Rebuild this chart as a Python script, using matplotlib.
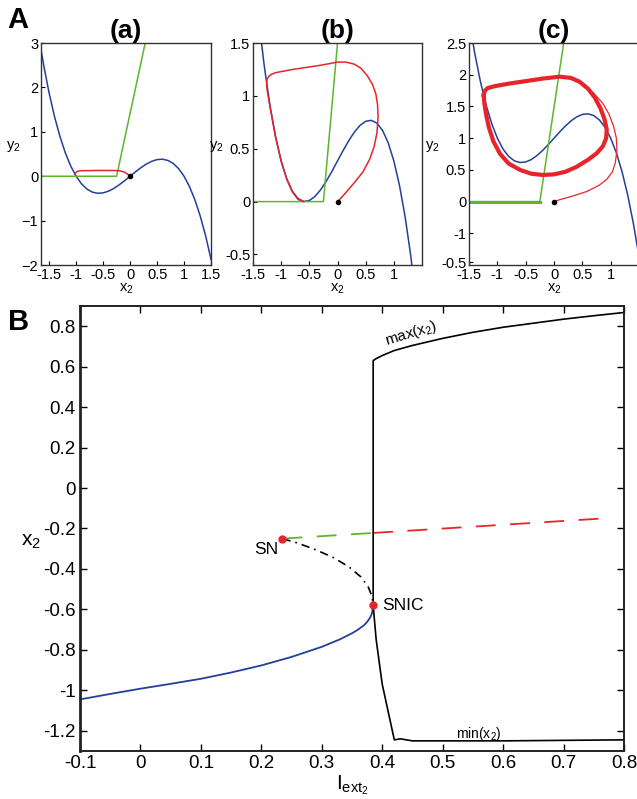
import matplotlib.pyplot as plt
from matplotlib.ticker import FixedLocator, FixedFormatter

plt.rcParams['font.family'] = ['Liberation Sans', 'DejaVu Sans']
plt.rcParams['mathtext.fontset'] = 'custom'
plt.rcParams['mathtext.rm'] = 'Liberation Sans'
plt.rcParams['mathtext.it'] = 'Liberation Sans:italic'

BLUE = '#22409a'
GREEN = '#5db530'
RED = '#e8242b'

# --- panel A: phase planes ---
cub_x = [-1.5, -1.4, -1.3, -1.2, -1.1, -1.0, -0.9, -0.8, -0.7, -0.6, -0.5, -0.4, -0.3,
         -0.2, -0.1, 0.0, 0.1, 0.2, 0.3, 0.4, 0.5, 0.6, 0.7, 0.8, 0.9, 1.0, 1.1, 1.2,
         1.3, 1.4, 1.5]
cub_x_a = [-1.67, -1.6] + cub_x
cub_y_a = [2.99, 2.496, 1.875, 1.344, 0.897, 0.528, 0.231, 0.0, -0.171, -0.288, -0.357,
           -0.384, -0.375, -0.336, -0.273, -0.192, -0.099, 0.0, 0.099, 0.192, 0.273,
           0.336, 0.375, 0.384, 0.357, 0.288, 0.171, 0.0, -0.231, -0.528, -0.897,
           -1.344, -1.875]
cub_y_b = [2.26, 1.729, 1.282, 0.913, 0.616, 0.385, 0.214, 0.097, 0.028, 0.001, 0.01,
           0.049, 0.112, 0.193, 0.286, 0.385, 0.484, 0.577, 0.658, 0.721, 0.76, 0.769,
           0.742, 0.673, 0.556, 0.385, 0.154, -0.143, -0.512, -0.959, -1.49]
cub_y_c = [2.875, 2.344, 1.897, 1.528, 1.231, 1.0, 0.829, 0.712, 0.643, 0.616, 0.625,
           0.664, 0.727, 0.808, 0.901, 1.0, 1.099, 1.192, 1.273, 1.336, 1.375, 1.384,
           1.357, 1.288, 1.171, 1.0, 0.769, 0.472, 0.103, -0.344, -0.875]

green_x = [-1.7, -0.25, 0.28]
green_y = [0.0, 0.0, 3.0]
green_x_b = [-1.5, -0.25, 0.0]
green_y_b = [0.0, 0.0, 1.5]
green_x_c = [-1.5, -0.25, 0.17]
green_y_c = [0.0, 0.0, 2.5]

traj_x_a = [0.0, -0.05, -0.1, -0.18, -0.3, -0.6, -0.9, -0.97, -1.0, -1.02]
traj_y_a = [0.0, 0.05, 0.09, 0.12, 0.13, 0.13, 0.125, 0.115, 0.09, 0.04]

traj_x_b = [0.0, 0.09, 0.3, 0.45, 0.57, 0.65, 0.70, 0.72, 0.71, 0.68, 0.62, 0.53, 0.42,
            0.3, 0.15, 0.0, -0.3, -0.8, -1.1, -1.17, -1.22, -1.25, -1.26, -1.25, -1.2,
            -1.1, -1.0, -0.9, -0.8, -0.7, -0.6]
traj_y_b = [0.0, 0.05, 0.18, 0.28, 0.4, 0.52, 0.65, 0.80, 0.92, 1.02, 1.11, 1.19, 1.26,
            1.30, 1.32, 1.32, 1.29, 1.25, 1.22, 1.205, 1.185, 1.16, 1.12, 1.06, 0.90,
            0.61, 0.38, 0.21, 0.09, 0.02, 0.0]

trans_x_c = [0.0, 0.1, 0.3, 0.58, 0.8, 0.93, 1.03, 1.08, 1.11, 1.1, 1.05, 0.97, 0.86,
             0.70, 0.55, 0.40, 0.25]
trans_y_c = [0.0, 0.03, 0.08, 0.16, 0.26, 0.35, 0.47, 0.61, 0.8, 1.0, 1.19, 1.38, 1.55,
             1.71, 1.82, 1.90, 1.95]
cycle_x_c = [-1.24, -1.22, -1.17, -1.05, -0.8, -0.5, -0.2, 0.1, 0.3, 0.45, 0.6, 0.72,
             0.82, 0.89, 0.93, 0.92, 0.86, 0.75, 0.6, 0.4, 0.2, 0.0, -0.2, -0.4, -0.6,
             -0.8, -0.95, -1.07, -1.15, -1.2, -1.23, -1.24]
cycle_y_c = [1.68, 1.75, 1.79, 1.82, 1.86, 1.9, 1.94, 1.97, 1.95, 1.89, 1.78, 1.64,
             1.47, 1.3, 1.14, 1.0, 0.87, 0.76, 0.66, 0.55, 0.47, 0.43, 0.42, 0.44, 0.5,
             0.6, 0.75, 0.95, 1.17, 1.38, 1.55, 1.68]

# --- panel B: bifurcation diagram ---
stable_I = [-0.1, -0.05, 0.0, 0.05, 0.1, 0.15, 0.2, 0.25, 0.3, 0.33, 0.35, 0.36, 0.37,
            0.375, 0.38, 0.383, 0.385]
stable_x = [-1.045, -1.018, -0.992, -0.968, -0.943, -0.912, -0.877, -0.835, -0.785,
            -0.748, -0.718, -0.7, -0.678, -0.662, -0.64, -0.62, -0.58]
saddle_I = [0.235, 0.26, 0.29, 0.32, 0.345, 0.365, 0.377, 0.383, 0.385]
saddle_x = [-0.25, -0.272, -0.305, -0.345, -0.39, -0.44, -0.49, -0.535, -0.58]
unst_green_I = [0.235, 0.385]
unst_green_x = [-0.25, -0.222]
unst_red_I = [0.385, 0.778]
unst_red_x = [-0.222, -0.148]
max_I = [0.385, 0.385, 0.39, 0.40, 0.42, 0.45, 0.5, 0.55, 0.6, 0.65, 0.7, 0.75, 0.8]
max_x = [-0.58, 0.63, 0.64, 0.655, 0.68, 0.705, 0.74, 0.77, 0.795, 0.815, 0.835, 0.852,
         0.868]
min_I = [0.385, 0.39, 0.40, 0.42, 0.43, 0.45, 0.6, 0.8]
min_x = [-0.58, -0.75, -0.97, -1.245, -1.24, -1.25, -1.25, -1.245]
sn_pt = (0.235, -0.25)
snic_pt = (0.385, -0.58)

fig = plt.figure(figsize=(6.37, 7.99), dpi=100)

boxes = [[0.0644, 0.6683, 0.2669, 0.2778],
         [0.3972, 0.6683, 0.2653, 0.2778],
         [0.7363, 0.6683, 0.2669, 0.2778]]
titles = ['(a)', '(b)', '(c)']
axs = [fig.add_axes(b) for b in boxes]

for ax in axs:
    for s in ax.spines.values():
        s.set_linewidth(1.0)
        s.set_color('#333333')
    ax.tick_params(direction='in', length=3, labelsize=10.5, pad=2, width=0.8)
    ax.set_xlabel('x$_2$', fontsize=10.5, labelpad=0)
    ax.set_ylabel('y$_2$', fontsize=10.5, rotation=0, labelpad=6)

ax = axs[0]
ax.plot(cub_x_a, cub_y_a, color=BLUE, lw=1.1)
ax.plot(green_x, green_y, color=GREEN, lw=1.1)
ax.plot(traj_x_a, traj_y_a, color=RED, lw=1.1)
ax.plot(0, 0, 'o', color='black', ms=3)
ax.set_xlim(-1.65, 1.5)
ax.set_ylim(-2, 3)
ax.set_xticks([-1.5, -1, -0.5, 0, 0.5, 1, 1.5])
ax.set_xticklabels(['-1.5', '-1', '-0.5', '0', '0.5', '1', '1.5'])
ax.set_yticks([-2, -1, 0, 1, 2, 3])

ax = axs[1]
ax.plot(cub_x, cub_y_b, color=BLUE, lw=1.1)
ax.plot(green_x_b, green_y_b, color=GREEN, lw=1.1)
ax.plot(traj_x_b, traj_y_b, color=RED, lw=1.1)
ax.plot(0, 0, 'o', color='black', ms=3)
ax.set_xlim(-1.5, 1.5)
ax.set_ylim(-0.6, 1.5)
ax.set_xticks([-1.5, -1, -0.5, 0, 0.5, 1])
ax.set_xticklabels(['-1.5', '-1', '-0.5', '0', '0.5', '1'])
ax.set_yticks([-0.5, 0, 0.5, 1, 1.5])
ax.set_yticklabels(['-0.5', '0', '0.5', '1', '1.5'])

ax = axs[2]
ax.plot(cub_x, cub_y_c, color=BLUE, lw=1.1)
ax.plot(green_x_c, green_y_c, color=GREEN, lw=1.1)
ax.plot(green_x_c[:2], green_y_c[:2], color=GREEN, lw=2.2)
ax.plot(trans_x_c, trans_y_c, color=RED, lw=0.9)
ax.plot(cycle_x_c, cycle_y_c, color=RED, lw=3.0, solid_joinstyle='round')
ax.plot(0, 0, 'o', color='black', ms=3)
ax.set_xlim(-1.5, 1.5)
ax.set_ylim(-1.0, 2.5)
ax.set_xticks([-1.5, -1, -0.5, 0, 0.5, 1])
ax.set_xticklabels(['-1.5', '-1', '-0.5', '0', '0.5', '1'])
ax.yaxis.set_major_locator(FixedLocator([-0.96, -0.5, 0, 0.5, 1, 1.5, 2, 2.5]))
ax.yaxis.set_major_formatter(FixedFormatter(['-0.5', '-1', '0', '0.5', '1', '1.5', '2', '2.5']))

for ax, t in zip(axs, titles):
    ax.set_title(t, fontsize=19, fontweight='bold', pad=2)

fig.text(0.012, 0.992, 'A', fontsize=21, fontweight='bold', va='top', ha='left')
fig.text(0.012, 0.615, 'B', fontsize=21, fontweight='bold', va='top', ha='left')

# panel B
axb = fig.add_axes([0.1256, 0.0601, 0.8540, 0.5569])
for s in axb.spines.values():
    s.set_linewidth(1.4)
    s.set_color('#222222')
axb.spines['left'].set_linewidth(2.0)
axb.tick_params(direction='in', length=5, labelsize=13.5, top=True, right=True, width=1.0, pad=3)

axb.plot(stable_I, stable_x, color=BLUE, lw=1.3)
axb.plot(saddle_I, saddle_x, color='black', lw=1.2, linestyle=(0, (5, 3, 1, 3)))
axb.plot(unst_green_I, unst_green_x, color=GREEN, lw=1.3, linestyle=(0, (11, 8)))
axb.plot(unst_red_I, unst_red_x, color=RED, lw=1.3, linestyle=(0, (11, 8)))
axb.plot(max_I, max_x, color='black', lw=1.2)
axb.plot(min_I, min_x, color='black', lw=1.2)
axb.plot(*sn_pt, 'o', color=RED, ms=5, zorder=5)
axb.plot(*snic_pt, 'o', color=RED, ms=5, zorder=5)

axb.text(0.228, -0.265, 'SN', fontsize=12.5, ha='right', va='top')
axb.text(0.4, -0.58, 'SNIC', fontsize=12.5, ha='left', va='center')
axb.text(0.448, 0.765, 'max(x$_2$)', fontsize=11, rotation=17, ha='center', va='center')
axb.text(0.56, -1.215, 'min(x$_2$)', fontsize=10, ha='center', va='center')

axb.set_xlim(-0.1, 0.8)
axb.set_ylim(-1.3, 0.9)
axb.set_xticks([-0.1, 0, 0.1, 0.2, 0.3, 0.4, 0.5, 0.6, 0.7, 0.8])
axb.set_xticklabels(['-0.1', '0', '0.1', '0.2', '0.3', '0.4', '0.5', '0.6', '0.7', '0.8'])
axb.set_yticks([-1.2, -1, -0.8, -0.6, -0.4, -0.2, 0, 0.2, 0.4, 0.6, 0.8])
axb.set_yticklabels(['-1.2', '-1', '-0.8', '-0.6', '-0.4', '-0.2', '0', '0.2', '0.4', '0.6', '0.8'])
axb.set_xlabel('$\\mathrm{I_{ext_2}}$', fontsize=15, labelpad=1)
axb.set_ylabel('x$_2$', fontsize=15, rotation=0, labelpad=14)
axb.yaxis.set_label_coords(-0.09, 0.45)

fig.savefig('out.png', dpi=100)
